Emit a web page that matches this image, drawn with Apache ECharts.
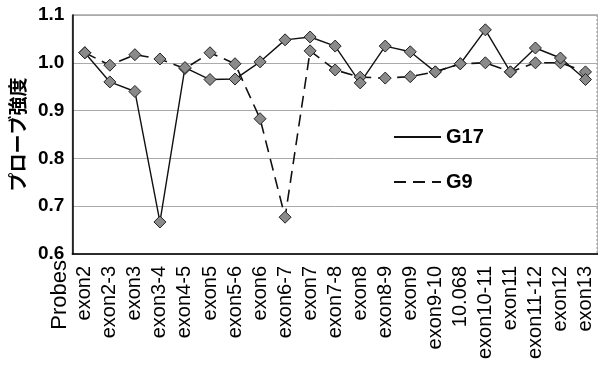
<!DOCTYPE html>
<html>
<head>
<meta charset="utf-8">
<script src="https://cdn.jsdelivr.net/npm/echarts@6/dist/echarts.min.js"></script>
<style>
  html, body { margin: 0; padding: 0; background: #fff; }
  #main { width: 598px; height: 369px; }
</style>
</head>
<body>
<div id="main"></div>
<script>
var probes = ['exon2', 'exon2-3', 'exon3', 'exon3-4', 'exon4-5', 'exon5', 'exon5-6', 'exon6', 'exon6-7',
    'exon7', 'exon7-8', 'exon8', 'exon8-9', 'exon9', 'exon9-10', '10.068', 'exon10-11', 'exon11',
    'exon11-12', 'exon12', 'exon13'];
var g17 = [1.021, 0.96, 0.94, 0.667, 0.99, 0.965, 0.966, 1.002, 1.048,
    1.054, 1.035, 0.958, 1.035, 1.023, 0.981, 0.998, 1.069, 0.981,
    1.031, 1.01, 0.965];
var g9 = [1.021, 0.995, 1.017, 1.008, 0.988, 1.021, 0.998, 0.883, 0.677,
    1.025, 0.985, 0.97, 0.968, 0.971, 0.981, 0.998, 1.0, 0.981,
    1.0, 1.0, 0.981];
var yTicks = [0.6, 0.7, 0.8, 0.9, 1.0, 1.1];

var font = "'Liberation Sans', Arial, sans-serif";
var myChart = echarts.init(document.getElementById('main'));

var option = {
    backgroundColor: '#fff',
    animation: false,
    grid: {
        left: 70,
        right: -3,
        top: 15,
        bottom: 115,
        show: true,
        borderColor: '#777',
        borderWidth: 1
    },
    legend: {
        orient: 'vertical',
        left: 388,
        top: 122,
        itemWidth: 47,
        itemHeight: 14,
        itemGap: 25,
        textStyle: {
            color: '#000',
            fontSize: 20,
            fontWeight: 'bold',
            fontFamily: font
        },
        itemStyle: { opacity: 0 },
        data: ['G17', 'G9']
    },
    xAxis: {
        type: 'category',
        data: probes,
        boundaryGap: true,
        axisTick: { show: false },
        axisLine: { lineStyle: { color: '#000', width: 1.5 } },
        axisLabel: {
            interval: 0,
            rotate: 90,
            margin: 12,
            color: '#000',
            fontSize: 20,
            fontFamily: font
        },
        splitLine: { show: false }
    },
    yAxis: {
        type: 'value',
        min: 0.6,
        max: 1.1,
        interval: 0.1,
        name: 'プローブ強度',
        nameLocation: 'middle',
        nameGap: 44,
        nameTextStyle: {
            color: '#000',
            fontSize: 19,
            fontWeight: 'bold',
            fontFamily: "'Noto Sans CJK JP', sans-serif"
        },
        axisLine: { show: true, lineStyle: { color: '#000', width: 1.5 } },
        axisTick: { show: false },
        axisLabel: {
            margin: 8,
            color: '#000',
            fontSize: 19,
            fontWeight: 'bold',
            fontFamily: font,
            formatter: function (v) {
                for (var i = 0; i < yTicks.length; i++) {
                    if (Math.abs(yTicks[i] - v) < 1e-6) return yTicks[i].toFixed(1);
                }
                return '';
            }
        },
        splitLine: { lineStyle: { color: '#aaa', width: 1 } }
    },
    graphic: [
        {
            type: 'line',
            shape: { x1: 597, y1: 15, x2: 597, y2: 254 },
            style: { stroke: '#999', lineWidth: 1, lineDash: [2, 2] }
        },
        {
            type: 'text',
            x: 60,
            y: 260,
            rotation: Math.PI / 2,
            style: {
                text: 'Probes',
                font: '22px ' + font,
                fill: '#000',
                align: 'right',
                verticalAlign: 'middle'
            }
        }
    ],
    series: [
        {
            name: 'G9',
            type: 'line',
            data: g9,
            symbol: 'diamond',
            symbolSize: 12,
            lineStyle: { color: '#111', width: 1.6, type: [12, 7] },
            itemStyle: { color: '#8a8a8a', borderColor: '#222', borderWidth: 1 }
        },
        {
            name: 'G17',
            type: 'line',
            data: g17,
            symbol: 'diamond',
            symbolSize: 12,
            lineStyle: { color: '#111', width: 1.4 },
            itemStyle: { color: '#8a8a8a', borderColor: '#222', borderWidth: 1 }
        }
    ]
};

myChart.setOption(option);
</script>
</body>
</html>
